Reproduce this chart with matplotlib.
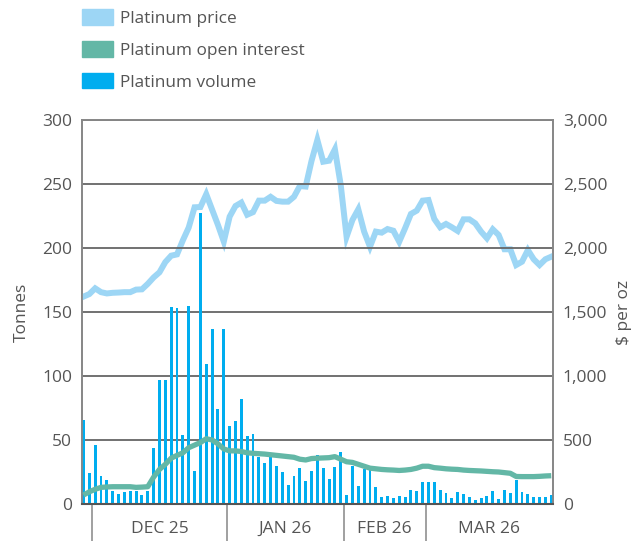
import matplotlib
matplotlib.use("Agg")
import matplotlib.pyplot as plt
from matplotlib.patches import Patch
import numpy as np

plt.rcParams['font.family'] = ['Open Sans', 'DejaVu Sans']

# ---- data ----
volume = [66, 24, 46, 22, 19, 10, 8, 9.5, 10, 10, 7, 10, 44, 97, 97, 154, 153, 54, 155, 26,
          227, 109, 137, 74.5, 137, 61, 65, 82, 53, 55, 37, 32, 37, 30, 25, 15, 22, 28, 18, 26,
          38, 28, 19.5, 29, 41, 7, 30, 14, 27, 30, 13, 5.5, 6, 4.7, 6, 5.5, 11, 10, 17, 17,
          17, 11, 8.6, 4.7, 9.4, 7.8, 5.5, 3, 4.7, 6, 10, 4, 11, 8.6, 19, 9.4, 7.8, 5.5, 5.5, 5.5, 7]

open_interest = [7, 9.5, 11.5, 13, 13.3, 13.5, 13.5, 13.5, 13.5, 13, 13.2, 13.5, 21, 27, 31, 35.8,
                 38, 40, 44, 46, 48, 51, 50, 47, 43, 41.5, 41.5, 41, 40, 39.6, 39.3, 39, 38.5, 38,
                 37.5, 37, 36.5, 35, 34.4, 35.5, 35.8, 36, 36.2, 37, 35, 33, 32.5, 31, 29.5, 28,
                 27.5, 27, 26.7, 26.5, 26.2, 26.5, 27, 28, 29.5, 29.5, 28.4, 28, 27.5, 27.2, 27,
                 26.5, 26.2, 26, 25.8, 25.5, 25.2, 25, 24.5, 24, 21.5, 21.4, 21.4, 21.4, 21.6, 21.9, 22.1]

price = [1620, 1640, 1685, 1655, 1645, 1650, 1652, 1655, 1655, 1675, 1677, 1720, 1770, 1810, 1890,
         1940, 1950, 2060, 2160, 2318, 2320, 2420, 2300, 2180, 2050, 2245, 2328, 2355, 2260, 2280,
         2370, 2370, 2400, 2368, 2362, 2362, 2400, 2484, 2480, 2680, 2844, 2674, 2682, 2771, 2492,
         2088, 2219, 2302, 2128, 2010, 2128, 2120, 2148, 2135, 2049, 2154, 2266, 2292, 2370, 2375,
         2227, 2162, 2188, 2162, 2133, 2224, 2224, 2193, 2128, 2076, 2146, 2102, 1990, 1990, 1867,
         1893, 1984, 1912, 1867, 1912, 1932]

month_labels = ["DEC 25", "JAN 26", "FEB 26", "MAR 26"]
month_starts = [2, 25, 45, 59]   # index of first trading day of each month

left_ticks = [0, 50, 100, 150, 200, 250, 300]
right_ticks = [0, 500, 1000, 1500, 2000, 2500, 3000]

# ---- styling ----
c_price = "#9dd6f5"
c_oi = "#63b7a6"
c_vol = "#00adef"
c_text = "#555555"
c_grid = "#666666"

W, H = 633, 541
fig = plt.figure(figsize=(W / 100, H / 100), dpi=100)
L, R, T, B = 82, 553, 120, 504
ax = fig.add_axes([L / W, 1 - B / H, (R - L) / W, (B - T) / H])

x = np.arange(len(volume))
xmax = len(volume) - 1 + 0.3
ax.set_xlim(-0.25, xmax)
ax.set_ylim(0, 300)

ax.bar(x, volume, width=0.5, color=c_vol, zorder=2)
ax.plot(x, open_interest, color=c_oi, lw=3.8, zorder=4, solid_capstyle='butt')

ax2 = ax.twinx()
ax2.set_ylim(0, 3000)
ax2.plot(x, price, color=c_price, lw=4.3, zorder=3, solid_joinstyle='miter')

# grid
ax.set_yticks(left_ticks)
ax.set_yticklabels([str(t) for t in left_ticks])
for t in left_ticks[1:]:
    ax.axhline(t, color=c_grid, lw=1.3, zorder=1)
ax2.set_yticks(right_ticks)
ax2.set_yticklabels([f"{t:,}" for t in right_ticks])

for a in (ax, ax2):
    a.tick_params(axis='y', length=0, labelsize=12.5, labelcolor=c_text)
    for s in a.spines.values():
        s.set_color("#888888")
        s.set_linewidth(1.3)
ax.tick_params(axis='y', pad=7)
ax2.tick_params(axis='y', pad=7)
ax.spines['bottom'].set_color("#555555")
ax.spines['bottom'].set_linewidth(1.5)

# x-axis month boundaries and labels
bounds = [s - 0.5 for s in month_starts]
ax.set_xticks(bounds, minor=True)
ax.tick_params(axis='x', which='minor', length=27, width=1.3, color="#999999")
mids = [(bounds[i] + (bounds[i + 1] if i + 1 < len(bounds) else xmax)) / 2 for i in range(len(bounds))]
ax.set_xticks(mids)
ax.set_xticklabels(month_labels)
ax.tick_params(axis='x', which='major', length=0, pad=12, labelsize=12.5, labelcolor=c_text)

ax.set_ylabel("Tonnes", fontsize=12.5, color=c_text, labelpad=9)
ax2.set_ylabel("$ per oz", fontsize=12.5, color=c_text, labelpad=6)

ax.set_zorder(ax2.get_zorder() + 1)
ax.patch.set_visible(False)

handles = [Patch(color=c_price), Patch(color=c_oi), Patch(color=c_vol)]
labels = ["Platinum price", "Platinum open interest", "Platinum volume"]
leg = fig.legend(handles, labels, loc='upper left', bbox_to_anchor=(78.5 / W, 1 - 6 / H),
                 frameon=False, fontsize=12.4, handlelength=1.8, handleheight=1.0,
                 labelspacing=0.82, handletextpad=0.42, borderpad=0.2, borderaxespad=0)
for t in leg.get_texts():
    t.set_color(c_text)

fig.savefig("out.png", dpi=100)
